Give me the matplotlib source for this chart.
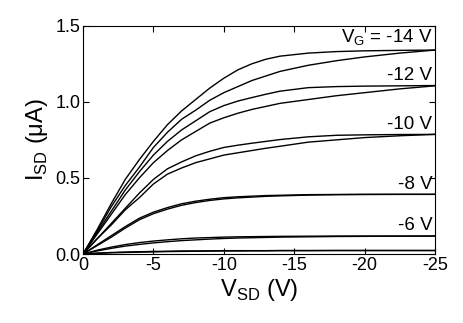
import matplotlib
matplotlib.use("Agg")
import matplotlib.pyplot as plt

plt.rcParams['font.family'] = ['Liberation Sans', 'DejaVu Sans']
plt.rcParams['mathtext.fontset'] = 'custom'
plt.rcParams['mathtext.rm'] = 'Liberation Sans'
plt.rcParams['axes.unicode_minus'] = False

vsd = [0, -1, -2, -3, -4, -5, -6, -7, -8, -9, -10, -11, -12, -13, -14, -16, -18, -20, -22.5, -25]

# drain current (uA), forward and reverse sweep per gate voltage
i_14f = [0, 0.16, 0.33, 0.49, 0.62, 0.74, 0.85, 0.94, 1.015, 1.09, 1.155, 1.21, 1.25, 1.28, 1.30,
         1.32, 1.33, 1.335, 1.338, 1.34]
i_14r = [0, 0.15, 0.31, 0.45, 0.57, 0.70, 0.80, 0.885, 0.945, 1.01, 1.06, 1.10, 1.14, 1.17, 1.20,
         1.24, 1.27, 1.295, 1.32, 1.34]
i_12f = [0, 0.14, 0.28, 0.42, 0.54, 0.65, 0.74, 0.815, 0.875, 0.935, 0.975, 1.005, 1.028, 1.05, 1.07,
         1.093, 1.10, 1.103, 1.105, 1.107]
i_12r = [0, 0.13, 0.26, 0.39, 0.50, 0.60, 0.68, 0.75, 0.805, 0.86, 0.895, 0.925, 0.95, 0.97, 0.99,
         1.015, 1.04, 1.06, 1.085, 1.105]
i_10f = [0, 0.10, 0.20, 0.30, 0.40, 0.49, 0.56, 0.605, 0.645, 0.675, 0.70, 0.715, 0.728, 0.74, 0.752,
         0.77, 0.78, 0.783, 0.785, 0.786]
i_10r = [0, 0.10, 0.19, 0.29, 0.37, 0.46, 0.525, 0.565, 0.60, 0.625, 0.65, 0.665, 0.68, 0.695, 0.708,
         0.735, 0.75, 0.765, 0.777, 0.786]
i_8f = [0, 0.06, 0.12, 0.18, 0.235, 0.275, 0.305, 0.33, 0.347, 0.36, 0.37, 0.376, 0.38, 0.384, 0.386,
        0.39, 0.391, 0.392, 0.392, 0.392]
i_8r = [0, 0.055, 0.11, 0.17, 0.225, 0.265, 0.295, 0.32, 0.338, 0.352, 0.362, 0.369, 0.374, 0.379, 0.382,
        0.387, 0.39, 0.391, 0.392, 0.392]
i_6f = [0, 0.025, 0.045, 0.062, 0.075, 0.085, 0.093, 0.10, 0.105, 0.108, 0.111, 0.113, 0.114, 0.115, 0.116,
        0.117, 0.118, 0.118, 0.118, 0.118]
i_6r = [0, 0.02, 0.037, 0.052, 0.063, 0.073, 0.081, 0.088, 0.093, 0.098, 0.102, 0.105, 0.107, 0.109, 0.111,
        0.113, 0.115, 0.116, 0.117, 0.118]
i_4f = [0, 0.006, 0.010, 0.013, 0.015, 0.017, 0.018, 0.020, 0.020, 0.021, 0.022, 0.022, 0.022, 0.022, 0.023,
        0.023, 0.023, 0.023, 0.023, 0.023]
i_4r = [0, 0.004, 0.008, 0.010, 0.012, 0.014, 0.016, 0.017, 0.018, 0.019, 0.020, 0.020, 0.021, 0.021, 0.022,
        0.022, 0.023, 0.023, 0.023, 0.023]

curves = [i_14f, i_14r, i_12f, i_12r, i_10f, i_10r, i_8f, i_8r, i_6f, i_6r, i_4f, i_4r]

labels = [r'V$_\mathregular{G}$ = -14 V', '-12 V', '-10 V', '-8 V', '-6 V']
label_y = [1.42, 1.17, 0.85, 0.455, 0.19]

fig = plt.figure(figsize=(4.63, 3.23), dpi=100)
ax = fig.add_axes([0.1793, 0.2136, 0.7602, 0.7068])

for c in curves:
    ax.plot(vsd, c, color='black', lw=1.0)

for t, y in zip(labels, label_y):
    ax.text(-24.8, y, t, ha='right', va='center', fontsize=13.5)

ax.set_xlim(0, -25)
ax.set_ylim(0, 1.5)
ax.set_xticks([0, -5, -10, -15, -20, -25])
ax.set_yticks([0.0, 0.5, 1.0, 1.5])
ax.set_yticklabels(['0.0', '0.5', '1.0', '1.5'])
ax.tick_params(direction='in', top=True, right=True, length=4, labelsize=13, pad=2)

ax.set_xlabel(r'V$_\mathregular{SD}$ (V)', fontsize=17, labelpad=2)
ax.set_ylabel(r'I$_\mathregular{SD}$ ($\mathregular{\mu}$A)', fontsize=17, labelpad=4)

fig.savefig('out.png', dpi=100)
